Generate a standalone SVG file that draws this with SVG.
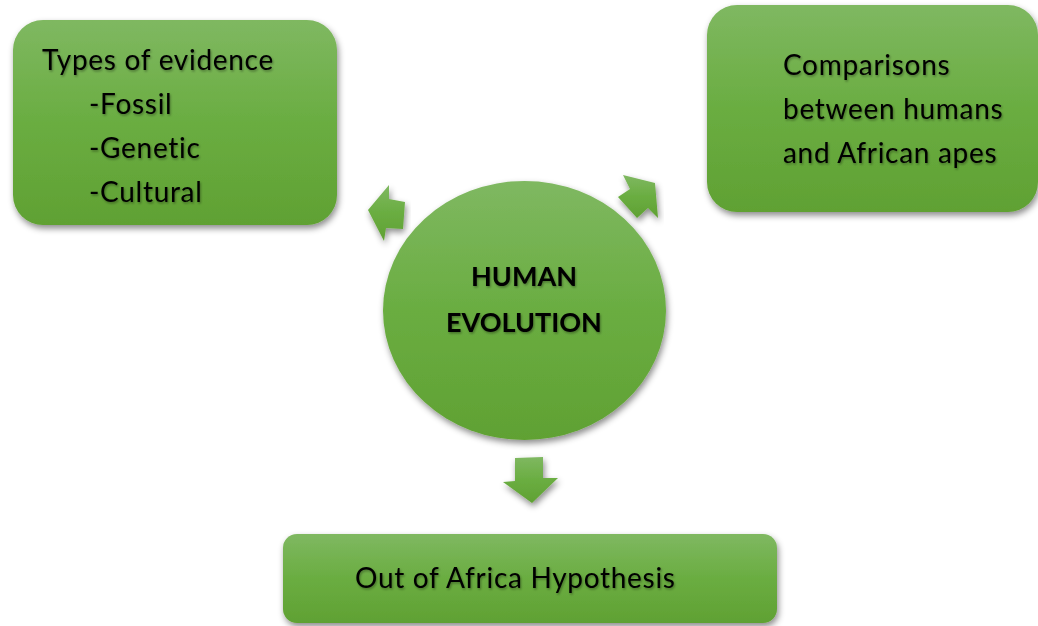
<svg xmlns="http://www.w3.org/2000/svg" width="1038" height="626" viewBox="0 0 1038 626">
  <defs>
    <linearGradient id="g" x1="0" y1="0" x2="0" y2="1">
      <stop offset="0" stop-color="#7fb861"/>
      <stop offset="0.5" stop-color="#6aad41"/>
      <stop offset="1" stop-color="#60a133"/>
    </linearGradient>
    <filter id="sh" x="-10%" y="-10%" width="125%" height="130%">
      <feDropShadow dx="1.5" dy="3.5" stdDeviation="3" flood-color="#000" flood-opacity="0.45"/>
    </filter>
    <filter id="ts" x="-5%" y="-20%" width="110%" height="150%">
      <feDropShadow dx="1" dy="1.5" stdDeviation="1" flood-color="#000" flood-opacity="0.35"/>
    </filter>
  </defs>
  <style>
    .shape { fill: url(#g); filter: url(#sh); }
    .t { font-family: Lato, "Open Sans", sans-serif; font-size: 28px; letter-spacing: 0.7px; font-variant-ligatures: none; fill: #000; filter: url(#ts); }
    .b { font-weight: bold; font-size: 27px; letter-spacing: 0; text-anchor: middle; }
  </style>
  <rect width="1038" height="626" fill="#fff"/>
  <g id="connectors">
    <polygon class="shape" points="368,210 389,185 389,199 405,202 403,229 386,228 384,241"/>
    <polygon class="shape" points="618,197 630,189 623,175 655,183 658,218 648,208 637,218"/>
    <polygon class="shape" points="515,458 543,457 543,478 558,478 532,503 503,482 515,481"/>
  </g>
  <g id="types">
    <rect class="shape" x="13" y="20" width="324" height="205" rx="30"/>
    <text class="t" x="42" y="70">Types of evidence</text>
    <text class="t" x="89" y="114">-Fossil</text>
    <text class="t" x="89" y="158">-Genetic</text>
    <text class="t" x="89" y="202">-Cultural</text>
  </g>
  <g id="comparisons">
    <rect class="shape" x="707" y="5" width="331" height="207" rx="30"/>
    <text class="t" x="783" y="75">Comparisons</text>
    <text class="t" x="783" y="119">between humans</text>
    <text class="t" x="783" y="163">and African apes</text>
  </g>
  <g id="center">
    <ellipse class="shape" cx="524.5" cy="310.5" rx="141.5" ry="129.5"/>
    <text class="t b" x="524" y="286">HUMAN</text>
    <text class="t b" x="524" y="332">EVOLUTION</text>
  </g>
  <g id="outofafrica">
    <rect class="shape" x="283" y="534" width="494" height="89" rx="14"/>
    <text class="t" x="355" y="588">Out of Africa Hypothesis</text>
  </g>
</svg>
